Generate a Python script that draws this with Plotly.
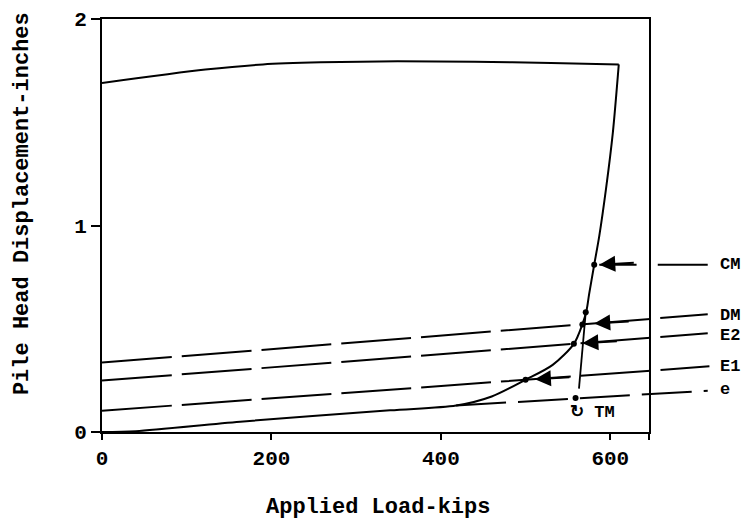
import plotly.graph_objects as go

# ---- data (kips, inches) ----
load_up = [0, 40, 163, 340, 418, 460, 500, 532, 557, 567, 572, 575, 581, 587, 595, 603, 610]
disp_up = [0, 0.004, 0.05, 0.105, 0.128, 0.172, 0.253, 0.325, 0.427, 0.521, 0.59, 0.668, 0.81, 0.95, 1.18, 1.45, 1.78]
load_down = [610, 530, 440, 349, 258, 190, 122, 0]
disp_down = [1.78, 1.787, 1.793, 1.795, 1.79, 1.78, 1.755, 1.69]

dm_load, dm_disp = [0, 715], [0.336, 0.570]
e2_load, e2_disp = [0, 715], [0.249, 0.478]
e1_load, e1_disp = [0, 717], [0.103, 0.318]
e_load, e_disp = [418, 715], [0.128, 0.200]
cm_load, cm_disp = [587, 631, None, 656, 715], [0.81, 0.81, None, 0.81, 0.81]
tm_load, tm_disp = [563, 567, 571], [0.21, 0.40, 0.58]

dot_load = [500, 557, 567, 571, 581, 559]
dot_disp = [0.253, 0.427, 0.521, 0.58, 0.81, 0.165]

labels = ["CM", "DM", "E2", "E1", "e"]
label_disp = [0.81, 0.562, 0.466, 0.315, 0.207]

arrow_tip_load = [587, 581, 567, 511]
arrow_tip_disp = [0.81, 0.526, 0.430, 0.256]

x_ticks = [0, 200, 400, 600, 646]
x_ticktext = ["0", "200", "400", "600", ""]
y_ticks = [0, 1, 2]

XMAX = 646
DOM = 0.8578
LAB = "Liberation Mono"
black = "black"

fig = go.Figure()
fig.add_trace(go.Scatter(x=load_up, y=disp_up, mode="lines",
                         line=dict(color=black, width=2, shape="spline", smoothing=0.8),
                         xaxis="x", yaxis="y", showlegend=False))
fig.add_trace(go.Scatter(x=load_down, y=disp_down, mode="lines",
                         line=dict(color=black, width=2, shape="spline", smoothing=0.8),
                         xaxis="x", yaxis="y", showlegend=False))
dash = "70px,10px"
for xs, ys in [(dm_load, dm_disp), (e2_load, e2_disp), (e1_load, e1_disp)]:
    fig.add_trace(go.Scatter(x=xs, y=ys, mode="lines", line=dict(color=black, width=2, dash=dash),
                             xaxis="x2", yaxis="y", showlegend=False))
fig.add_trace(go.Scatter(x=e_load, y=e_disp, mode="lines", line=dict(color=black, width=2, dash="50px,12px"),
                         xaxis="x2", yaxis="y", showlegend=False))
fig.add_trace(go.Scatter(x=cm_load, y=cm_disp, mode="lines", line=dict(color=black, width=2),
                         xaxis="x2", yaxis="y", showlegend=False))
fig.add_trace(go.Scatter(x=tm_load, y=tm_disp, mode="lines", line=dict(color=black, width=1.8),
                         xaxis="x2", yaxis="y", showlegend=False))
fig.add_trace(go.Scatter(x=dot_load, y=dot_disp, mode="markers", marker=dict(color=black, size=6),
                         xaxis="x2", yaxis="y", showlegend=False))

ann = []
for xl, yl in zip(arrow_tip_load, arrow_tip_disp):
    ann.append(dict(x=xl, y=yl, xref="x2", yref="y", text="", showarrow=True,
                    ax=36, ay=-2, arrowhead=2, arrowsize=1.6, arrowwidth=2, arrowcolor=black))
for t, yv in zip(labels, label_disp):
    ann.append(dict(x=727, y=yv, xref="x2", yref="y", text=t, showarrow=False, xanchor="left",
                    yanchor="middle", font=dict(family=LAB, size=17, color=black, weight="bold")))
ann.append(dict(x=550, y=0.093, xref="x2", yref="y", text="↻ TM", showarrow=False, xanchor="left",
                yanchor="middle", font=dict(family=LAB, size=17, color=black, weight="bold")))
ann.append(dict(x=(22 - 102) / 638, y=(432 - 203) / 415, xref="paper", yref="paper",
                text="Pile Head Displacement-inches", textangle=-90, showarrow=False,
                xanchor="center", yanchor="middle", font=dict(family=LAB, size=22, color=black, weight="bold")))
ann.append(dict(x=(378 - 102) / 638, y=(432 - 508) / 415, xref="paper", yref="paper",
                text="Applied Load-kips", showarrow=False,
                xanchor="center", yanchor="middle", font=dict(family=LAB, size=22, color=black, weight="bold")))

fig.update_layout(
    width=749, height=523,
    margin=dict(l=102, r=9, t=17, b=91),
    paper_bgcolor="white", plot_bgcolor="rgba(0,0,0,0)",
    xaxis=dict(domain=[0, DOM], range=[0, XMAX], tickvals=x_ticks, ticktext=x_ticktext,
               showgrid=False, zeroline=False, showline=True, linecolor=black, linewidth=2,
               mirror=True, ticks="outside", ticklen=6, tickwidth=2, tickcolor=black,
               tickfont=dict(family=LAB, size=21, color=black, weight="bold")),
    xaxis2=dict(domain=[0, 1], range=[0, XMAX / DOM], anchor="y", visible=False,
                showgrid=False, zeroline=False),
    yaxis=dict(range=[0, 2], tickvals=y_ticks, showgrid=False, zeroline=False, showline=True,
               linecolor=black, linewidth=2, mirror=True, ticks="outside", ticklen=9,
               tickwidth=2, tickcolor=black,
               tickfont=dict(family=LAB, size=21, color=black, weight="bold")),
    annotations=ann,
)
fig.write_html("out.html")
